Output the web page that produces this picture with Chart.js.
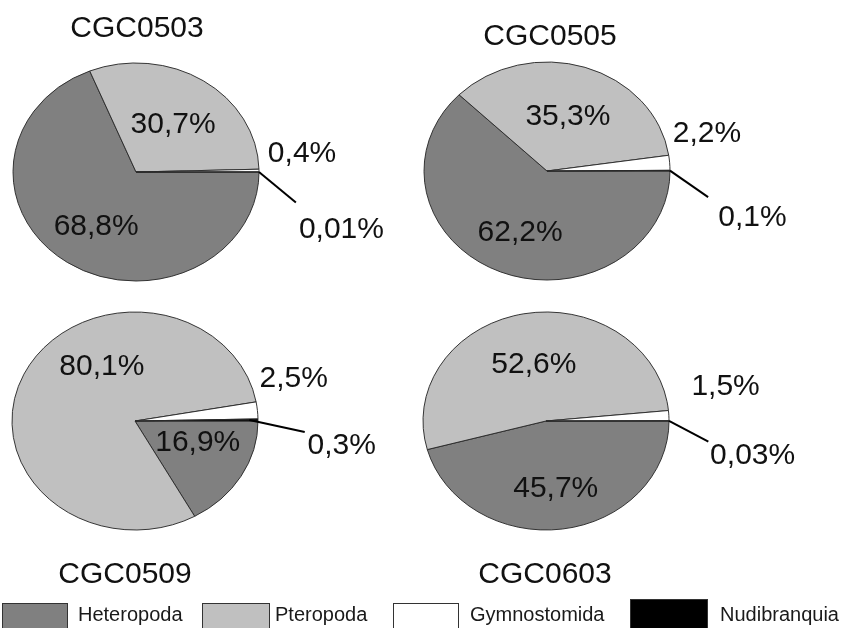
<!DOCTYPE html>
<html>
<head>
<meta charset="utf-8">
<script src="https://cdn.jsdelivr.net/npm/chart.js@4/dist/chart.umd.min.js"></script>
<style>
  html, body { margin: 0; padding: 0; background: #fff; }
  body { width: 841px; height: 628px; overflow: hidden; position: relative; font-family: "Liberation Sans", Arial, sans-serif; }
  canvas { position: absolute; left: 0; top: 0; }
  .lg-box { position: absolute; top: 603px; height: 32px; box-sizing: border-box; border: 1px solid #333; }
  .lg-txt { position: absolute; top: 602px; font-size: 20px; line-height: 24px; color: #1a1a1a; white-space: nowrap; }
</style>
</head>
<body>
<canvas id="c0" width="841" height="598"></canvas>
<canvas id="c1" width="841" height="598"></canvas>
<canvas id="c2" width="841" height="598"></canvas>
<canvas id="c3" width="841" height="598"></canvas>
<div id="legend"></div>
<script>
// ---- data ----
const categories = ['Heteropoda', 'Pteropoda', 'Gymnostomida', 'Nudibranquia'];
const stations = ['CGC0503', 'CGC0505', 'CGC0509', 'CGC0603'];
const cgc0503 = [68.8, 30.7, 0.4, 0.01];
const cgc0505 = [62.2, 35.3, 2.2, 0.1];
const cgc0509 = [16.9, 80.1, 2.5, 0.3];
const cgc0603 = [45.7, 52.6, 1.5, 0.03];
const seriesList = [cgc0503, cgc0505, cgc0509, cgc0603];

// ---- style / layout ----
const colors = ['#808080', '#c0c0c0', '#ffffff', '#000000'];
const W = 841, H = 598;
const RADIUS = 123;          // horizontal radius
const SQ = 109 / 123;        // vertical squash of the pies
const FONT = '"Liberation Sans", Arial, sans-serif';
// label placements: {r} = at slice mid-angle, radius fraction; {d:[x,y]} = offset in radius units
const layouts = [
  { cx: 136, cy: 172, title: [1, -135],
    labels: [{r: 0.58}, {r: 0.55}, {d: [1.35, -0.19]}, {d: [1.67, 0.50]}],
    leader: {from: 1.0, to: [1.30, 0.28]} },
  { cx: 547, cy: 171, title: [3, -126],
    labels: [{r: 0.58}, {r: 0.55}, {d: [1.30, -0.37]}, {d: [1.67, 0.40]}],
    leader: {from: 1.0, to: [1.31, 0.24]} },
  { cx: 135, cy: 421, title: [-10, 162],
    labels: [{d: [0.51, 0.17]}, {d: [-0.27, -0.52]}, {d: [1.29, -0.41]}, {d: [1.68, 0.20]}],
    leader: {from: 0.93, to: [1.38, 0.10]} },
  { cx: 546, cy: 421, title: [-1, 162],
    labels: [{r: 0.60}, {r: 0.55}, {d: [1.46, -0.34]}, {d: [1.68, 0.29]}],
    leader: {from: 1.0, to: [1.32, 0.19]} }
];

function fmt(v) { return String(v).replace('.', ',') + '%'; }

const squashPlugin = {
  id: 'squash',
  beforeDatasetsDraw(chart) {
    const a = chart.getDatasetMeta(0).data[0];
    const ctx = chart.ctx;
    ctx.save();
    ctx.translate(a.x, a.y);
    ctx.scale(1, SQ);
    ctx.translate(-a.x, -a.y);
  },
  afterDatasetsDraw(chart) { chart.ctx.restore(); }
};

const annotPlugin = {
  id: 'annot',
  afterDraw(chart) {
    const cfg = chart.options.plugins.annot;
    const L = cfg.layout;
    const ctx = chart.ctx;
    const arcs = chart.getDatasetMeta(0).data;
    const cx = arcs[0].x, cy = arcs[0].y, R = arcs[0].outerRadius;
    ctx.save();
    // leader line to the smallest slice
    const last = arcs[arcs.length - 1];
    const ma = (last.startAngle + last.endAngle) / 2;
    ctx.strokeStyle = '#000';
    ctx.lineWidth = 2;
    ctx.beginPath();
    ctx.moveTo(cx + Math.cos(ma) * R * L.leader.from, cy + Math.sin(ma) * R * SQ * L.leader.from);
    ctx.lineTo(cx + R * L.leader.to[0], cy + R * SQ * L.leader.to[1]);
    ctx.stroke();
    // value labels
    ctx.fillStyle = '#111';
    ctx.font = '30px ' + FONT;
    ctx.textAlign = 'center';
    ctx.textBaseline = 'alphabetic';
    const vals = chart.data.datasets[0].data;
    arcs.forEach((a, i) => {
      const p = L.labels[i];
      let x, y;
      if (p.d) { x = cx + R * p.d[0]; y = cy + R * SQ * p.d[1]; }
      else {
        const m = (a.startAngle + a.endAngle) / 2;
        x = cx + Math.cos(m) * R * p.r; y = cy + Math.sin(m) * R * SQ * p.r;
      }
      ctx.fillText(fmt(vals[i]), x, y + 11);
    });
    // title
    ctx.fillStyle = '#111';
    ctx.font = '30px ' + FONT;
    ctx.fillText(cfg.title, cx + L.title[0], cy + L.title[1]);
    ctx.restore();
  }
};

seriesList.forEach((vals, k) => {
  const L = layouts[k];
  new Chart(document.getElementById('c' + k), {
    type: 'pie',
    data: {
      labels: categories,
      datasets: [{
        data: vals,
        backgroundColor: colors,
        borderColor: '#2a2a2a',
        borderWidth: 1,
        radius: RADIUS,
        clip: false
      }]
    },
    options: {
      responsive: false,
      animation: false,
      events: [],
      rotation: 90,
      layout: { padding: { left: L.cx - 100, right: W - L.cx - 100, top: L.cy - 100, bottom: H - L.cy - 100 } },
      plugins: {
        legend: { display: false },
        tooltip: { enabled: false },
        title: { display: false },
        annot: { layout: L, title: stations[k] }
      }
    },
    plugins: [squashPlugin, annotPlugin]
  });
});

// ---- legend (HTML) ----
const legendPos = [
  { box: [2, 66], txt: 78 },
  { box: [202, 68], txt: 275 },
  { box: [393, 66], txt: 470 },
  { box: [630, 78], txt: 720, top: 599 }
];
const lg = document.getElementById('legend');
categories.forEach((c, i) => {
  const p = legendPos[i];
  const b = document.createElement('div');
  b.className = 'lg-box';
  b.style.left = p.box[0] + 'px';
  b.style.width = p.box[1] + 'px';
  b.style.background = colors[i];
  if (p.top) b.style.top = p.top + 'px';
  lg.appendChild(b);
  const t = document.createElement('div');
  t.className = 'lg-txt';
  t.style.left = p.txt + 'px';
  t.textContent = c;
  lg.appendChild(t);
});
</script>
</body>
</html>
